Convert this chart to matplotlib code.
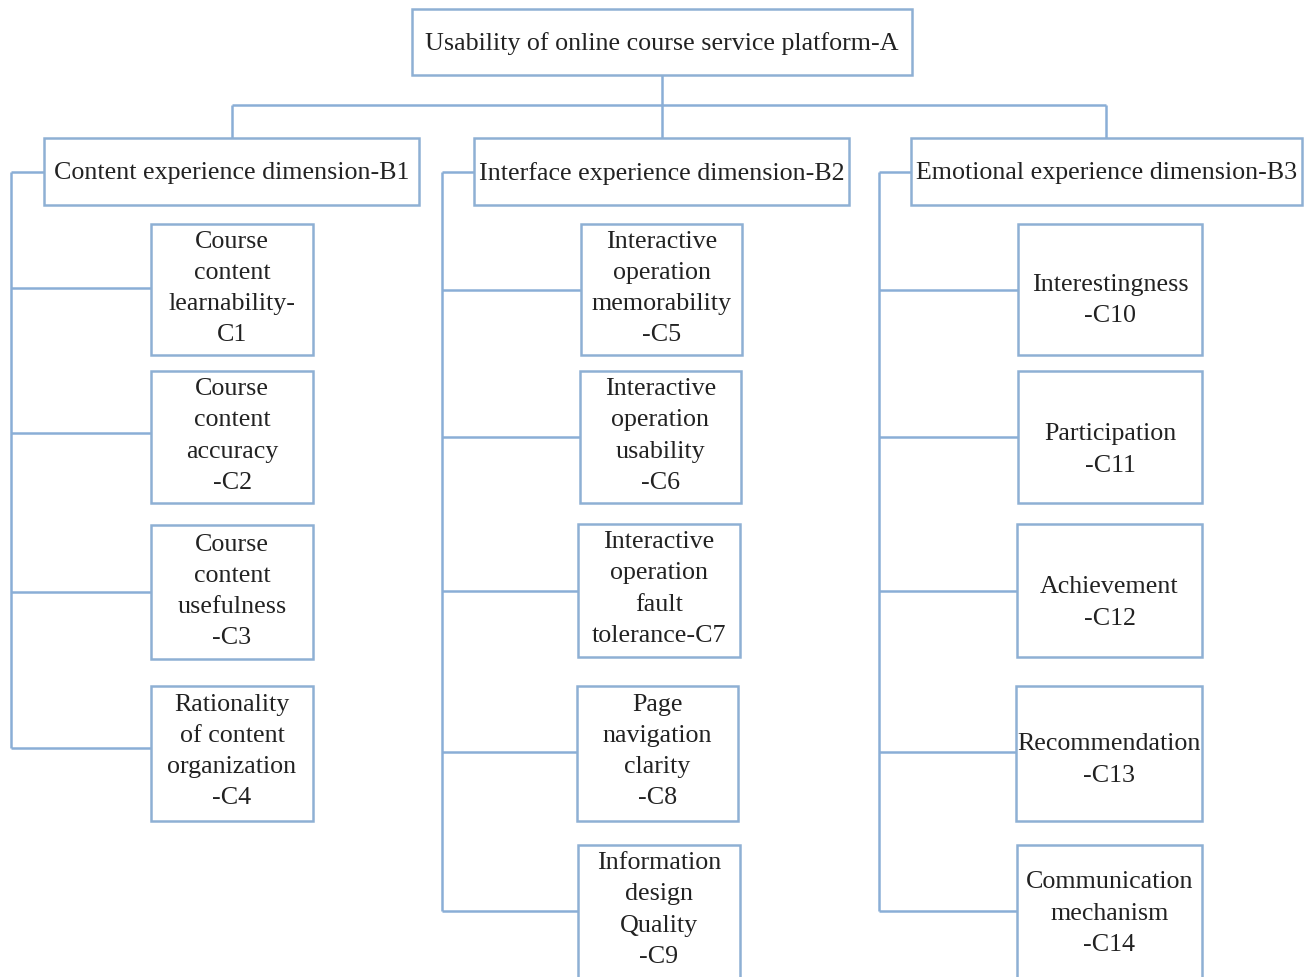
import matplotlib
matplotlib.use("Agg")
import matplotlib.pyplot as plt
from matplotlib.patches import Rectangle

# ---- content ----
root_label = "Usability of online course service platform-A"
dimension_labels = [
    "Content experience dimension-B1",
    "Interface experience dimension-B2",
    "Emotional experience dimension-B3",
]
criteria_b1 = [
    "Course\ncontent\nlearnability-\nC1",
    "Course\ncontent\naccuracy\n-C2",
    "Course\ncontent\nusefulness\n-C3",
    "Rationality\nof content\norganization\n-C4",
]
criteria_b2 = [
    "Interactive\noperation\nmemorability\n-C5",
    "Interactive\noperation\nusability\n-C6",
    "Interactive\noperation\nfault\ntolerance-C7",
    "Page\nnavigation\nclarity\n-C8",
    "Information\ndesign\nQuality\n-C9",
]
criteria_b3 = [
    "Interestingness\n-C10",
    "Participation\n-C11",
    "Achievement\n-C12",
    "Recommendation\n-C13",
    "Communication\nmechanism\n-C14",
]

# ---- layout (pixel coordinates, y downward) ----
W, H = 1307, 977
LINE = "#8aaed6"
EDGE = "#8eb0d4"
TXT = "#222222"
FONT = ["Liberation Serif", "DejaVu Serif"]
FS = 18.7

fig = plt.figure(figsize=(W / 100, H / 100), dpi=100)
ax = fig.add_axes([0, 0, 1, 1])
ax.set_xlim(0, W)
ax.set_ylim(H, 0)
ax.axis("off")


def box(x0, y0, x1, y1, text, ls=1.53, cy=None):
    ax.add_patch(Rectangle((x0, y0), x1 - x0, y1 - y0, fill=True, facecolor="white",
                           edgecolor=EDGE, lw=1.8, zorder=3))
    if cy is None:
        cy = (y0 + y1) / 2 + 2
    ax.text((x0 + x1) / 2, cy, text, ha="center", va="center",
            fontsize=FS, family=FONT, color=TXT, linespacing=ls, zorder=4)


def line(xs, ys):
    ax.plot(xs, ys, color=LINE, lw=1.8, solid_capstyle="butt", zorder=2)


# root
box(412, 9, 912, 75, root_label)
# top connectors
line([662, 662], [75, 105])
line([232, 1106], [105, 105])
for xc in (232, 662, 1106):
    line([xc, xc], [105, 138])

dim_boxes = [(44, 138, 419, 205), (474, 138, 849, 205), (911, 138, 1302, 205)]
for (x0, y0, x1, y1), lab in zip(dim_boxes, dimension_labels):
    box(x0, y0, x1, y1, lab)

groups = [
    (criteria_b1, 11,
     [(151, 224, 313, 355), (151, 371, 313, 503), (151, 525, 313, 659), (151, 686, 313, 821)],
     [288, 433, 592, 748], [288.5, 436, 591.5, 751.5]),
    (criteria_b2, 442,
     [(581, 224, 742, 355), (580, 371, 741, 503), (578, 524, 740, 657),
      (577, 686, 738, 821), (578, 845, 740, 990)],
     [290, 437, 591, 752, 911], [288.5, 436, 589, 751.5, 910]),
    (criteria_b3, 879,
     [(1018, 224, 1202, 355), (1018, 371, 1202, 503), (1017, 524, 1202, 657),
      (1016, 686, 1202, 821), (1017, 845, 1202, 990)],
     [290, 437, 591, 752, 911], [300.5, 450, 603, 760, 913.5]),
]

for (labels, bx, rects, ys, tys), (dx0, dy0, dx1, dy1) in zip(groups, dim_boxes):
    line([dx0, bx], [172, 172])
    line([bx, bx], [172, ys[-1]])
    for (x0, y0, x1, y1), lab, yb, ty in zip(rects, labels, ys, tys):
        line([bx, x0], [yb, yb])
        box(x0, y0, x1, y1, lab, cy=ty)

fig.savefig("out.png", dpi=100, facecolor="white")
